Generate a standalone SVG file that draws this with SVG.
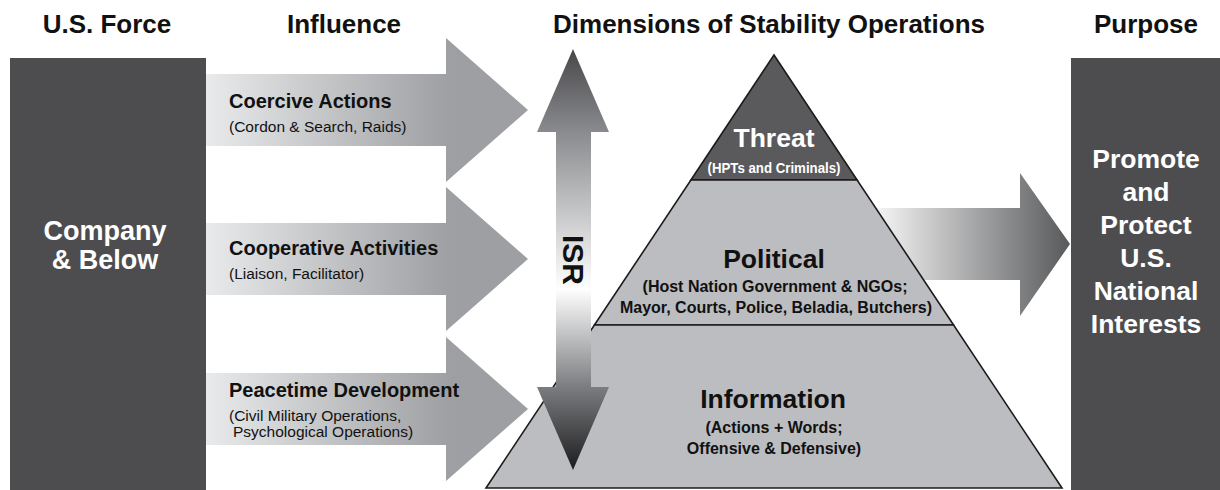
<svg xmlns="http://www.w3.org/2000/svg" width="1220" height="490" viewBox="0 0 1220 490">
<defs>
<style>
text{font-family:"Liberation Sans",Arial,Helvetica,sans-serif;}
.title{font-size:26px;font-weight:bold;fill:#111;text-anchor:middle;}
.box{fill:#4d4d4f;}
.boxtxt{font-size:27px;font-weight:bold;fill:#fff;text-anchor:middle;}
.purp{font-size:26.5px;font-weight:bold;fill:#fff;text-anchor:middle;}
.alab{font-size:20px;font-weight:bold;fill:#111;}
.asub{font-size:15.5px;fill:#111;}
.layer{fill:#bcbdc0;stroke:#1c1a1b;stroke-width:1.6;stroke-linejoin:miter;}
.top{fill:#5a5a5d;stroke:#1c1a1b;stroke-width:1.6;}
.phead{font-size:26.5px;font-weight:bold;fill:#111;text-anchor:middle;}
.psub{font-size:16px;font-weight:bold;fill:#111;text-anchor:middle;}
</style>
<linearGradient id="gInf" gradientUnits="userSpaceOnUse" x1="206" y1="0" x2="450" y2="0">
<stop offset="0" stop-color="#e9eaeb"/>
<stop offset="1" stop-color="#9d9fa2"/>
</linearGradient>
<linearGradient id="gIsr" gradientUnits="userSpaceOnUse" x1="0" y1="49" x2="0" y2="470">
<stop offset="0" stop-color="#48484b"/>
<stop offset="0.2" stop-color="#8b8c8f"/>
<stop offset="0.57" stop-color="#ffffff"/>
<stop offset="0.8" stop-color="#7d7e81"/>
<stop offset="1" stop-color="#1c1c1e"/>
</linearGradient>
<linearGradient id="gPur" gradientUnits="userSpaceOnUse" x1="878" y1="0" x2="1070" y2="0">
<stop offset="0" stop-color="#f4f4f4"/>
<stop offset="1" stop-color="#58595b"/>
</linearGradient>
</defs>
<rect width="1220" height="490" fill="#ffffff"/>

<g id="titles">
<text class="title" x="107" y="33">U.S. Force</text>
<text class="title" x="344" y="33">Influence</text>
<text class="title" x="769" y="33">Dimensions of Stability Operations</text>
<text class="title" x="1146" y="33">Purpose</text>
</g>

<g id="us-force">
<rect class="box" x="10" y="58" width="196" height="432"/>
<text class="boxtxt" x="105" y="240">Company</text>
<text class="boxtxt" x="105" y="269">&amp; Below</text>
</g>

<g id="connectors">
<g id="coercive">
<path d="M206,74 H446 V38 L528,110 L446,182 V146 H206 Z" fill="url(#gInf)"/>
<text class="alab" x="229" y="108">Coercive Actions</text>
<text class="asub" x="229" y="132">(Cordon &amp; Search, Raids)</text>
</g>
<g id="cooperative">
<path d="M206,223 H446 V187 L528,259 L446,331 V295 H206 Z" fill="url(#gInf)"/>
<text class="alab" x="229" y="255">Cooperative Activities</text>
<text class="asub" x="229" y="279">(Liaison, Facilitator)</text>
</g>
<g id="peacetime">
<path d="M206,373 H446 V337 L528,409 L446,481 V445 H206 Z" fill="url(#gInf)"/>
<text class="alab" x="229" y="397">Peacetime Development</text>
<text class="asub" x="229" y="421">(Civil Military Operations,</text>
<text class="asub" x="233" y="437">Psychological Operations)</text>
</g>
<g id="to-purpose">
<path d="M860,208 H1020 V173 L1070,244 L1020,316 V280 H860 Z" fill="url(#gPur)"/>
</g>
</g>

<g id="pyramid">
<g id="threat">
<polygon class="top" points="774,55 857.1,180 690.9,180"/>
<text x="774" y="147" style="font-size:26.5px;font-weight:bold;fill:#fff;text-anchor:middle">Threat</text>
<text x="774" y="173" textLength="133" lengthAdjust="spacingAndGlyphs" style="font-size:14px;font-weight:bold;fill:#fff;text-anchor:middle">(HPTs and Criminals)</text>
</g>
<g id="political">
<polygon class="layer" points="690.9,180 857.1,180 953.6,325 594.4,325"/>
<text class="phead" x="774" y="268">Political</text>
<text class="psub" x="775" y="292">(Host Nation Government &amp; NGOs;</text>
<text class="psub" x="776" y="313">Mayor, Courts, Police, Beladia, Butchers)</text>
</g>
<g id="information">
<polygon class="layer" points="594.4,325 953.6,325 1062,488 486,488"/>
<text class="phead" x="773" y="408">Information</text>
<text class="psub" x="774" y="433">(Actions + Words;</text>
<text class="psub" x="774" y="454">Offensive &amp; Defensive)</text>
</g>
</g>

<g id="isr">
<path d="M573,49 L609,132 H591 V387 H609 L573,470 L537,387 H556 V132 H537 Z" fill="url(#gIsr)"/>
<text transform="translate(563,260) rotate(90)" style="font-size:30px;font-weight:bold;fill:#111;text-anchor:middle">ISR</text>
</g>

<g id="purpose">
<rect class="box" x="1071" y="58" width="149" height="432"/>
<text class="purp" x="1146" y="168">Promote</text>
<text class="purp" x="1146" y="201">and</text>
<text class="purp" x="1146" y="234">Protect</text>
<text class="purp" x="1146" y="267">U.S.</text>
<text class="purp" x="1146" y="300">National</text>
<text class="purp" x="1146" y="333">Interests</text>
</g>
</svg>
